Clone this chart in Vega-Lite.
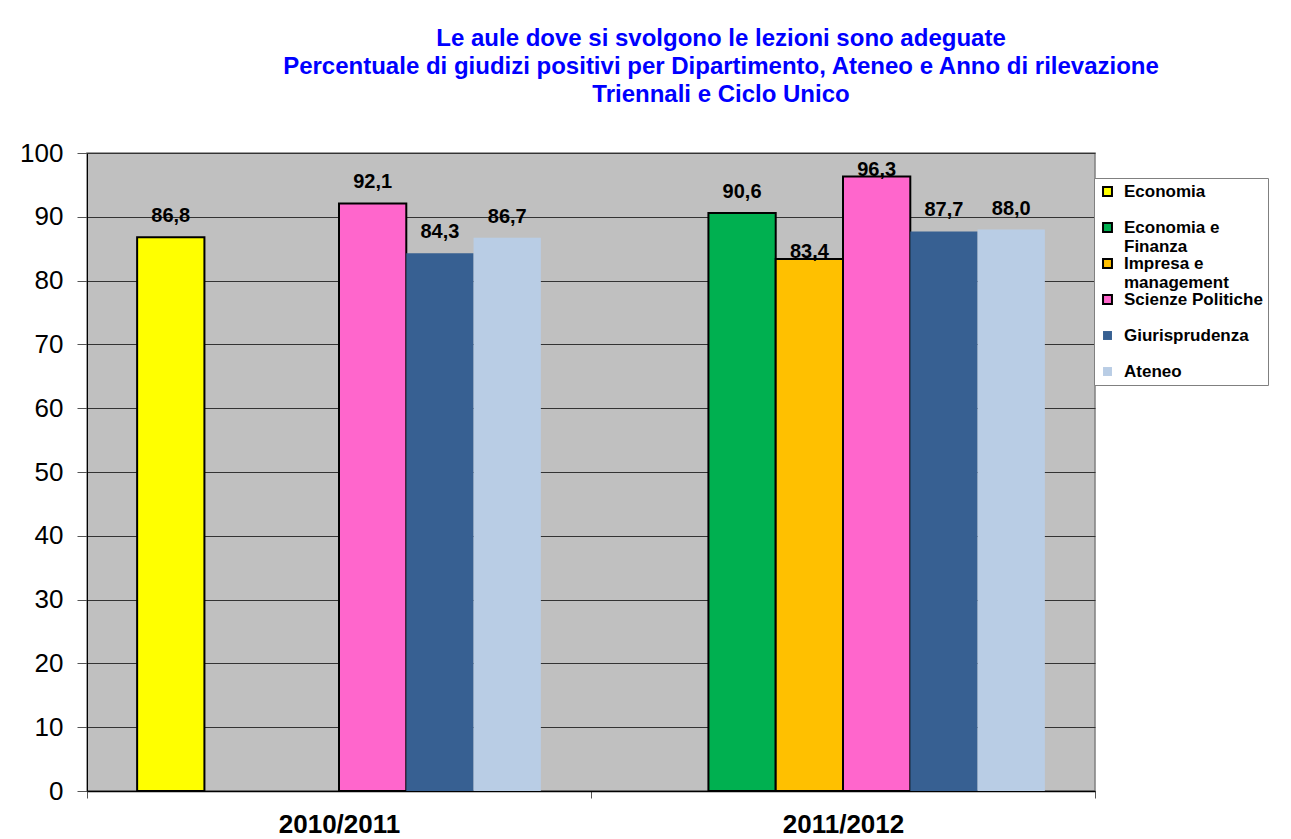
{
  "$schema": "https://vega.github.io/schema/vega-lite/v6.json",
  "width": 1008,
  "height": 638,
  "autosize": {"type": "none"},
  "padding": {"left": 87, "top": 153, "right": 196, "bottom": 48},
  "background": "white",
  "config": {
    "locale": {"number": {"decimal": ",", "thousands": ".", "grouping": [3], "currency": ["€", ""]}},
    "font": "Liberation Sans",
    "view": {"fill": "#C0C0C0", "stroke": "#808080", "strokeWidth": 1.5}
  },
  "title": {
    "text": ["Le aule dove si svolgono le lezioni sono adeguate", "Percentuale di giudizi positivi per Dipartimento,  Ateneo e Anno di rilevazione", "Triennali e Ciclo Unico"],
    "color": "#0000FF",
    "font": "Liberation Sans",
    "fontSize": 24,
    "fontWeight": "bold",
    "lineHeight": 28,
    "anchor": "middle",
    "dx": 130,
    "offset": 33
  },
  "data": {
    "values": [
      {"anno": "2010/2011", "dip": "Economia", "val": 86.8},
      {"anno": "2010/2011", "dip": "Scienze Politiche", "val": 92.1},
      {"anno": "2010/2011", "dip": "Giurisprudenza", "val": 84.3},
      {"anno": "2010/2011", "dip": "Ateneo", "val": 86.7},
      {"anno": "2011/2012", "dip": "Economia e Finanza", "val": 90.6},
      {"anno": "2011/2012", "dip": "Impresa e management", "val": 83.4},
      {"anno": "2011/2012", "dip": "Scienze Politiche", "val": 96.3},
      {"anno": "2011/2012", "dip": "Giurisprudenza", "val": 87.7},
      {"anno": "2011/2012", "dip": "Ateneo", "val": 88.0}
    ]
  },
  "encoding": {
    "x": {
      "field": "anno", "type": "nominal", "title": null,
      "scale": {"paddingInner": 0, "paddingOuter": 0},
      "axis": {"labelAngle": 0, "labelFontSize": 26, "labelFontWeight": "bold", "labelColor": "black", "labelPadding": 13, "tickBand": "extent", "tickSize": 7, "tickColor": "#555555", "domainColor": "black", "domainWidth": 1.5}
    },
    "xOffset": {
      "field": "dip", "type": "nominal",
      "scale": {"domain": ["Economia", "Economia e Finanza", "Impresa e management", "Scienze Politiche", "Giurisprudenza", "Ateneo"], "paddingInner": 0, "paddingOuter": 0.745}
    },
    "y": {
      "field": "val", "type": "quantitative", "title": null,
      "scale": {"domain": [0, 100], "nice": false},
      "axis": {"values": [0, 10, 20, 30, 40, 50, 60, 70, 80, 90, 100], "labelFontSize": 26, "labelColor": "black", "labelPadding": 14, "tickSize": 10, "tickColor": "#555555", "gridColor": "#333333", "gridWidth": 1, "domainColor": "black", "domainWidth": 1}
    }
  },
  "layer": [
    {
      "mark": {"type": "bar", "strokeWidth": 2},
      "encoding": {
        "fill": {
          "field": "dip", "type": "nominal", "title": null,
          "scale": {"domain": ["Economia", "Economia e Finanza", "Impresa e management", "Scienze Politiche", "Giurisprudenza", "Ateneo"], "range": ["#FFFF00", "#00B050", "#FFC000", "#FF66CC", "#376092", "#B9CDE5"]},
          "legend": {
            "orient": "none", "legendX": 1007, "legendY": 25,
            "symbolType": "square", "symbolSize": 80, "symbolStrokeWidth": 2,
            "labelFontSize": 17, "labelFontWeight": "bold", "labelColor": "black",
            "labelOffset": 8, "rowPadding": -1, "padding": 5, "gridAlign": "all",
            "fillColor": "white", "strokeColor": "#808080",
            "labelExpr": "datum.label == 'Economia e Finanza' ? ['Economia e', 'Finanza'] : datum.label == 'Impresa e management' ? ['Impresa e', 'management'] : datum.label"
          }
        },
        "stroke": {
          "field": "dip", "type": "nominal", "title": null,
          "scale": {"domain": ["Economia", "Economia e Finanza", "Impresa e management", "Scienze Politiche", "Giurisprudenza", "Ateneo"], "range": ["black", "black", "black", "black", "transparent", "transparent"]}
        }
      }
    },
    {
      "transform": [{"filter": "datum.val != 83.4 && datum.val != 96.3"}],
      "mark": {"type": "text", "baseline": "bottom", "dy": -11, "fontSize": 20, "fontWeight": "bold", "color": "black"},
      "encoding": {"text": {"field": "val", "type": "quantitative", "format": ".1f"}}
    },
    {
      "transform": [{"filter": "datum.val == 83.4 || datum.val == 96.3"}],
      "mark": {"type": "text", "baseline": "bottom", "dy": 3, "fontSize": 20, "fontWeight": "bold", "color": "black"},
      "encoding": {"text": {"field": "val", "type": "quantitative", "format": ".1f"}}
    }
  ]
}
